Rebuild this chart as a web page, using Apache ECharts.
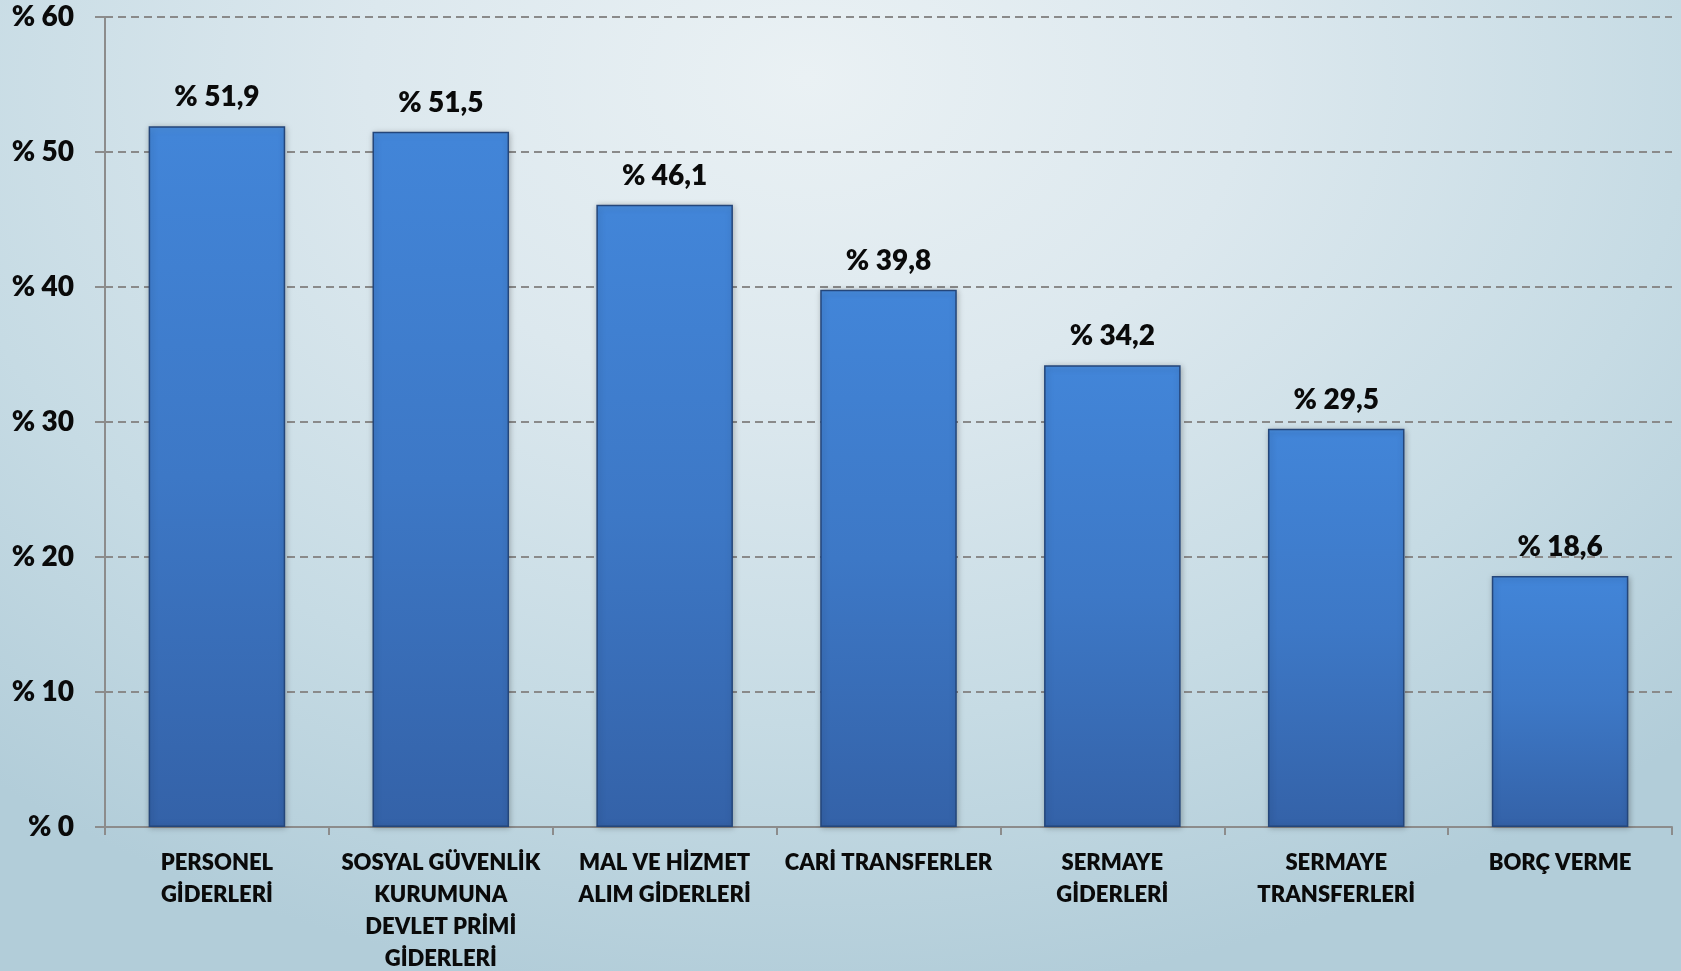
<!DOCTYPE html>
<html>
<head>
<meta charset="utf-8">
<script src="https://cdn.jsdelivr.net/npm/echarts@6/dist/echarts.min.js"></script>
<style>
html,body{margin:0;padding:0;width:1681px;height:971px;overflow:hidden;}
body{background:radial-gradient(ellipse 75% 95% at 48% 8%, #eaf1f4 0%, #dce8ee 35%, #c6dbe4 70%, #b2cdd9 100%);}
#chart{width:1681px;height:971px;}
</style>
</head>
<body>
<div id="chart"></div>
<script>
const categories = [
  "PERSONEL\nGİDERLERİ",
  "SOSYAL GÜVENLİK\nKURUMUNA\nDEVLET PRİMİ\nGİDERLERİ",
  "MAL VE HİZMET\nALIM GİDERLERİ",
  "CARİ TRANSFERLER",
  "SERMAYE\nGİDERLERİ",
  "SERMAYE\nTRANSFERLERİ",
  "BORÇ VERME"
];
const values = [51.9, 51.5, 46.1, 39.8, 34.2, 29.5, 18.6];
const yTicks = [0, 10, 20, 30, 40, 50, 60];

const chart = echarts.init(document.getElementById('chart'), null, {renderer: 'canvas'});
const font = 'Lato, "Open Sans", sans-serif';
chart.setOption({
  backgroundColor: 'transparent',
  animation: false,
  grid: {left: 105, right: 9, top: 17, bottom: 144, containLabel: false, outerBoundsMode: 'none'},
  xAxis: {
    type: 'category',
    data: categories,
    axisLine: {show: true, lineStyle: {color: '#8c8c8c', width: 2}},
    axisTick: {show: true, length: 8, lineStyle: {color: '#8c8c8c', width: 2}},
    axisLabel: {
      interval: 0, margin: 20, color: '#0a0a0a', fontFamily: font,
      fontWeight: 800, fontSize: 22, lineHeight: 32, align: 'center'
    }
  },
  yAxis: {
    type: 'value',
    min: yTicks[0], max: yTicks[yTicks.length - 1], interval: 10,
    axisLine: {show: true, lineStyle: {color: '#8c8c8c', width: 2}},
    axisTick: {show: true, length: 10, lineStyle: {color: '#8c8c8c', width: 2}},
    splitLine: {show: true, lineStyle: {color: '#8a8a8a', width: 2, type: [8, 5]}},
    axisLabel: {
      margin: 31, color: '#0a0a0a', fontFamily: font, fontWeight: 800, fontSize: 28,
      formatter: v => '% ' + v
    }
  },
  series: [{
    type: 'bar',
    data: values,
    barCategoryGap: '39%',
    itemStyle: {
      color: new echarts.graphic.LinearGradient(0, 0, 0, 1, [
        {offset: 0, color: '#4a8fe0'},
        {offset: 0.012, color: '#4285d8'},
        {offset: 0.5, color: '#3d78c6'},
        {offset: 1, color: '#3462a8'}
      ]),
      borderColor: '#24467a',
      borderWidth: 1.5,
      shadowColor: 'rgba(0,0,0,0.25)',
      shadowBlur: 6,
      shadowOffsetX: 1,
      shadowOffsetY: 1
    },
    label: {
      show: true, position: 'top', distance: 15,
      color: '#0a0a0a', fontFamily: font, fontWeight: 800, fontSize: 28,
      formatter: p => '% ' + String(p.value).replace('.', ',')
    }
  }]
});
</script>
</body>
</html>
